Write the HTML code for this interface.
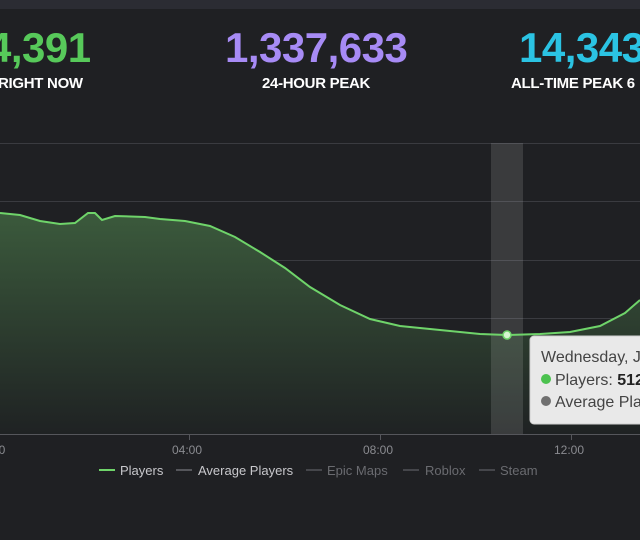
<!DOCTYPE html>
<html><head><meta charset="utf-8"><style>
html,body{margin:0;padding:0;width:640px;height:540px;overflow:hidden;background:#1f2023;font-family:"Liberation Sans",sans-serif}
.top{position:absolute;left:0;top:0;width:640px;height:9px;background:#2b2c33}
.num{position:absolute;top:24px;font-weight:bold;font-size:42px;letter-spacing:-0.5px;white-space:nowrap}
.lab{position:absolute;top:75px;font-weight:bold;font-size:15px;color:#fff;white-space:nowrap;letter-spacing:-0.3px}
</style></head><body>
<div class="top"></div>
<div class="num" style="left:-12px;color:#57c95a">4,391</div>
<div class="lab" style="left:-2px">RIGHT NOW</div>
<div class="num" style="left:225px;color:#a78bf5">1,337,633</div>
<div class="lab" style="left:262px">24-HOUR PEAK</div>
<div class="num" style="left:519px;color:#2bc3e3">14,343</div>
<div class="lab" style="left:511px">ALL-TIME PEAK 6</div>
<svg width="640" height="540" style="position:absolute;left:0;top:0">
<defs><linearGradient id="g" x1="0" y1="0" x2="0" y2="1"><stop offset="0" stop-color="#3b5a3c"/><stop offset="1" stop-color="#1f2223"/></linearGradient></defs>
<g stroke="#3a3b40" stroke-width="1">
<line x1="0" y1="143.5" x2="640" y2="143.5"/><line x1="0" y1="201.5" x2="640" y2="201.5"/><line x1="0" y1="260.5" x2="640" y2="260.5"/><line x1="0" y1="318.5" x2="640" y2="318.5"/><line x1="0" y1="376.5" x2="640" y2="376.5"/></g>
<path d="M0,213 L20,215 40,221 60,224 75,223 88,213 95,213 102,220 115,216 145,217 160,219 185,221 210,226 235,237 260,252 285,268 310,287 340,305 370,319 400,326 440,330 480,334 507,335 540,334 570,332 600,326 625,313 640,300 L640,434 L0,434Z" fill="url(#g)"/>
<rect x="491" y="143" width="32" height="291" fill="#ffffff" fill-opacity="0.12"/>
<path d="M0,213 L20,215 40,221 60,224 75,223 88,213 95,213 102,220 115,216 145,217 160,219 185,221 210,226 235,237 260,252 285,268 310,287 340,305 370,319 400,326 440,330 480,334 507,335 540,334 570,332 600,326 625,313 640,300" fill="none" stroke="#6fd46a" stroke-width="2"/>
<line x1="0" y1="434.5" x2="640" y2="434.5" stroke="#55565b"/>
<g stroke="#55565b"><line x1="189.5" y1="434" x2="189.5" y2="440"/><line x1="380.5" y1="434" x2="380.5" y2="440"/><line x1="571.5" y1="434" x2="571.5" y2="440"/></g>
<circle cx="507" cy="335" r="4" fill="#d6f5d0" stroke="#6fd46a" stroke-width="1.5"/>
<g fill="#8a8b90" font-size="12" font-family="Liberation Sans"><text x="-8" y="454">00</text><text x="172" y="454">04:00</text><text x="363" y="454">08:00</text><text x="554" y="454">12:00</text></g>
<g font-size="13" font-family="Liberation Sans">
<line x1="99" y1="470" x2="115" y2="470" stroke="#6fd46a" stroke-width="2"/><text x="120" y="475" fill="#c8c8cc">Players</text>
<line x1="176" y1="470" x2="192" y2="470" stroke="#55565b" stroke-width="2"/><text x="198" y="475" fill="#c8c8cc">Average Players</text>
<line x1="306" y1="470" x2="322" y2="470" stroke="#45464b" stroke-width="2"/><text x="327" y="475" fill="#6a6b70">Epic Maps</text>
<line x1="403" y1="470" x2="419" y2="470" stroke="#45464b" stroke-width="2"/><text x="425" y="475" fill="#6a6b70">Roblox</text>
<line x1="479" y1="470" x2="495" y2="470" stroke="#45464b" stroke-width="2"/><text x="500" y="475" fill="#6a6b70">Steam</text>
</g>
<rect x="530" y="336" width="120" height="88" rx="4" fill="#e9e9e9" stroke="#cfcfcf"/>
<g font-family="Liberation Sans" font-size="16" fill="#444"><text x="541" y="362">Wednesday, J</text>
<circle cx="546" cy="379" r="5" fill="#4cc24f"/><text x="555" y="385">Players: <tspan font-weight="bold" fill="#222">512</tspan></text>
<circle cx="546" cy="401" r="5" fill="#707070"/><text x="555" y="407">Average Pla</text></g>
</svg>
</body></html>
